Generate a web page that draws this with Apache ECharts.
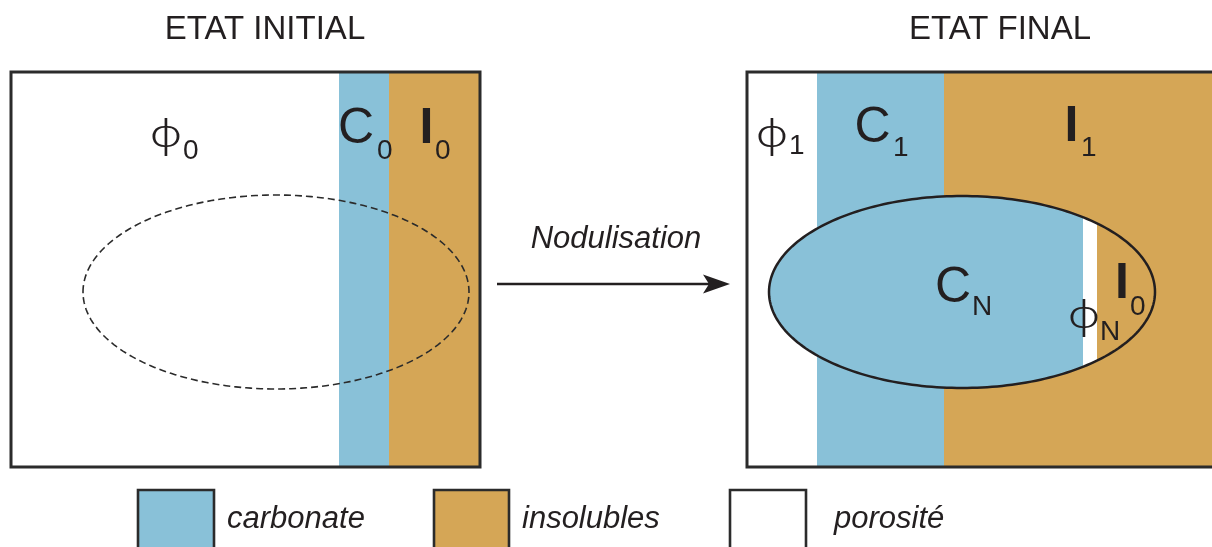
<!DOCTYPE html>
<html><head><meta charset="utf-8">
<script src="https://cdn.jsdelivr.net/npm/echarts@6/dist/echarts.min.js"></script>
<style>html,body{margin:0;padding:0;background:#fff}#c{width:1212px;height:547px}</style>
</head><body><div id="c"></div>
<script>
// ---- data ----
const titles = ['ETAT INITIAL', 'ETAT FINAL'];
const materials = ['carbonate', 'insolubles', 'porosité'];
const processLabel = 'Nodulisation';
// column boundaries (axis units) : [material, start, end]
const initialColumns = [['porosité', 11, 339], ['carbonate', 339, 389], ['insolubles', 389, 480]];
const finalColumns = [['porosité', 747, 817], ['carbonate', 817, 944], ['insolubles', 944, 1240]];
const noduleStrips = [['carbonate', 760, 1083], ['porosité', 1083, 1097], ['insolubles', 1097, 1170]];
const initialLabels = [['ϕ', '0'], ['C', '0'], ['I', '0']];
const finalLabels = [['ϕ', '1'], ['C', '1'], ['I', '1'], ['C', 'N'], ['ϕ', 'N'], ['I', '0']];

// ---- layout / style ----
const FONT = '"Liberation Sans", Arial, "DejaVu Sans", sans-serif';
const PHI_FONT = '"Noto Sans", "DejaVu Sans", sans-serif';
const colorOf = { carbonate: '#89C1D8', insolubles: '#D5A656', 'porosité': '#FFFFFF' };
const INK = '#231F20';
const box = { top: 72, bottom: 467 };
const frames = [[11, 480], [747, 1240]];
const ghostEllipse = { cx: 276, cy: 292, rx: 193, ry: 97 };
const nodule = { cx: 962, cy: 292, rx: 193, ry: 96 };
// label anchor positions [x, y, subX, subY]
const labelPos = {
  initial: [[166, 136, 183, 151], [356, 129, 377, 151], [426.5, 129, 435, 151]],
  final: [[772, 136, 789, 146], [872.5, 128.5, 893, 148], [1071.5, 127, 1081, 148],
          [953, 288, 972, 307], [1084, 317, 1100, 332.5], [1122, 284, 1130, 307.5]]
};
const titlePos = [[265, 30], [1000, 30]];
const arrow = { x0: 497, x1: 730, y: 284, labelX: 616, labelY: 239 };
const legendPos = [[138, 214, 227], [434, 509, 522], [730, 806, 834]];
const legendY = { top: 490, bottom: 570, text: 519 };

const allColumns = initialColumns.concat(finalColumns);

function ellipseStrip(api, e, x0, x1) {
  const cl = v => Math.max(-1, Math.min(1, v));
  const a0 = Math.acos(cl((x0 - e.cx) / e.rx));
  const a1 = Math.acos(cl((x1 - e.cx) / e.rx));
  const pts = [], n = 120;
  for (let i = 0; i <= n; i++) { const t = a0 + (a1 - a0) * i / n; pts.push(api.coord([e.cx + e.rx * Math.cos(t), e.cy - e.ry * Math.sin(t)])); }
  for (let i = 0; i <= n; i++) { const t = a1 + (a0 - a1) * i / n; pts.push(api.coord([e.cx + e.rx * Math.cos(t), e.cy + e.ry * Math.sin(t)])); }
  return pts;
}

function labelEls(api, lab, pos) {
  const isPhi = lab[0] === 'ϕ';
  const isI = lab[0] === 'I';
  const p = api.coord([pos[0], pos[1]]);
  const s = api.coord([pos[2], pos[3]]);
  const main = isPhi
    ? { type: 'text', x: p[0], y: p[1], scaleX: 1.25, style: { text: lab[0], x: 0, y: 0, align: 'center', verticalAlign: 'middle', font: '300 38px ' + PHI_FONT, fill: INK } }
    : { type: 'text', style: { text: lab[0], x: p[0], y: p[1], align: 'center', verticalAlign: 'middle', font: (isI ? 'bold ' : '') + '50px ' + FONT, fill: INK } };
  return [
    main,
    { type: 'text', style: { text: lab[1], x: s[0], y: s[1], align: 'left', verticalAlign: 'middle', font: '28px ' + FONT, fill: INK } }
  ];
}

const chart = echarts.init(document.getElementById('c'), null, { renderer: 'canvas' });
chart.setOption({
  animation: false,
  grid: { left: 0, right: 0, top: 0, bottom: 0 },
  xAxis: { type: 'value', min: 0, max: 1212, show: false },
  yAxis: { type: 'value', min: 0, max: 547, inverse: true, show: false },
  series: [
    { // layer columns
      type: 'custom', silent: true, z: 1,
      data: allColumns.map(c => [c[1], c[2]]),
      renderItem: (params, api) => {
        const p0 = api.coord([api.value(0), box.top]);
        const p1 = api.coord([api.value(1), box.bottom]);
        return { type: 'rect', shape: { x: p0[0], y: p0[1], width: p1[0] - p0[0], height: p1[1] - p0[1] },
          style: { fill: colorOf[allColumns[params.dataIndex][0]] } };
      }
    },
    { // future nodule outline (dashed)
      type: 'custom', silent: true, z: 2,
      data: [[ghostEllipse.cx, ghostEllipse.cy]],
      renderItem: (params, api) => ({ type: 'polygon', shape: { points: ellipseStrip(api, ghostEllipse, ghostEllipse.cx - ghostEllipse.rx, ghostEllipse.cx + ghostEllipse.rx) },
        style: { fill: 'none', stroke: '#2B2B2B', lineWidth: 1.6, lineDash: [7, 4] } })
    },
    { // nodule strips
      type: 'custom', silent: true, z: 3,
      data: noduleStrips.map(s => [s[1], s[2]]),
      renderItem: (params, api) => ({ type: 'polygon', shape: { points: ellipseStrip(api, nodule, api.value(0), api.value(1)) },
        style: { fill: colorOf[noduleStrips[params.dataIndex][0]], stroke: null } })
    },
    { // nodule outline
      type: 'custom', silent: true, z: 4,
      data: [[nodule.cx, nodule.cy]],
      renderItem: (params, api) => ({ type: 'polygon', shape: { points: ellipseStrip(api, nodule, nodule.cx - nodule.rx, nodule.cx + nodule.rx) },
        style: { fill: 'none', stroke: INK, lineWidth: 2.5 } })
    },
    { // frames
      type: 'custom', silent: true, z: 5,
      data: frames,
      renderItem: (params, api) => {
        const p0 = api.coord([api.value(0), box.top]);
        const p1 = api.coord([api.value(1), box.bottom]);
        return { type: 'rect', shape: { x: p0[0], y: p0[1], width: p1[0] - p0[0], height: p1[1] - p0[1] },
          style: { fill: 'none', stroke: '#2B2B2B', lineWidth: 3 } };
      }
    },
    { // arrow + process label
      type: 'custom', silent: true, z: 6,
      data: [[arrow.x0, arrow.y]],
      renderItem: (params, api) => {
        const a = api.coord([arrow.x0, arrow.y]);
        const b = api.coord([arrow.x1, arrow.y]);
        const t = api.coord([arrow.labelX, arrow.labelY]);
        return { type: 'group', children: [
          { type: 'line', shape: { x1: a[0], y1: a[1], x2: b[0] - 18, y2: b[1] }, style: { stroke: INK, lineWidth: 2.4 } },
          { type: 'polygon', shape: { points: [[b[0], b[1]], [b[0] - 27, b[1] - 9.5], [b[0] - 21, b[1]], [b[0] - 27, b[1] + 9.5]] }, style: { fill: INK } },
          { type: 'text', style: { text: processLabel, x: t[0], y: t[1], align: 'center', verticalAlign: 'middle', font: 'italic 31px ' + FONT, fill: INK } }
        ] };
      }
    },
    { // layer labels
      type: 'custom', silent: true, z: 7,
      data: initialLabels.concat(finalLabels).map((l, i) => [i, 0]),
      renderItem: (params, api) => {
        const i = params.dataIndex;
        const lab = i < initialLabels.length ? initialLabels[i] : finalLabels[i - initialLabels.length];
        const pos = i < initialLabels.length ? labelPos.initial[i] : labelPos.final[i - initialLabels.length];
        return { type: 'group', children: labelEls(api, lab, pos) };
      }
    },
    { // titles
      type: 'custom', silent: true, z: 7,
      data: titles.map((t, i) => [i, 0]),
      renderItem: (params, api) => {
        const p = api.coord(titlePos[params.dataIndex]);
        return { type: 'text', style: { text: titles[params.dataIndex], x: p[0], y: p[1], align: 'center', verticalAlign: 'middle', font: '33px ' + FONT, fill: INK } };
      }
    },
    { // legend
      type: 'custom', silent: true, z: 8,
      data: materials.map((m, i) => [i, 0]),
      renderItem: (params, api) => {
        const lp = legendPos[params.dataIndex];
        const p0 = api.coord([lp[0], legendY.top]);
        const p1 = api.coord([lp[1], legendY.bottom]);
        const t = api.coord([lp[2], legendY.text]);
        return { type: 'group', children: [
          { type: 'rect', shape: { x: p0[0], y: p0[1], width: p1[0] - p0[0], height: p1[1] - p0[1] },
            style: { fill: colorOf[materials[params.dataIndex]], stroke: '#2B2B2B', lineWidth: 2.6 } },
          { type: 'text', style: { text: materials[params.dataIndex], x: t[0], y: t[1], align: 'left', verticalAlign: 'middle', font: 'italic 31px ' + FONT, fill: INK } }
        ] };
      }
    }
  ]
});
</script></body></html>
